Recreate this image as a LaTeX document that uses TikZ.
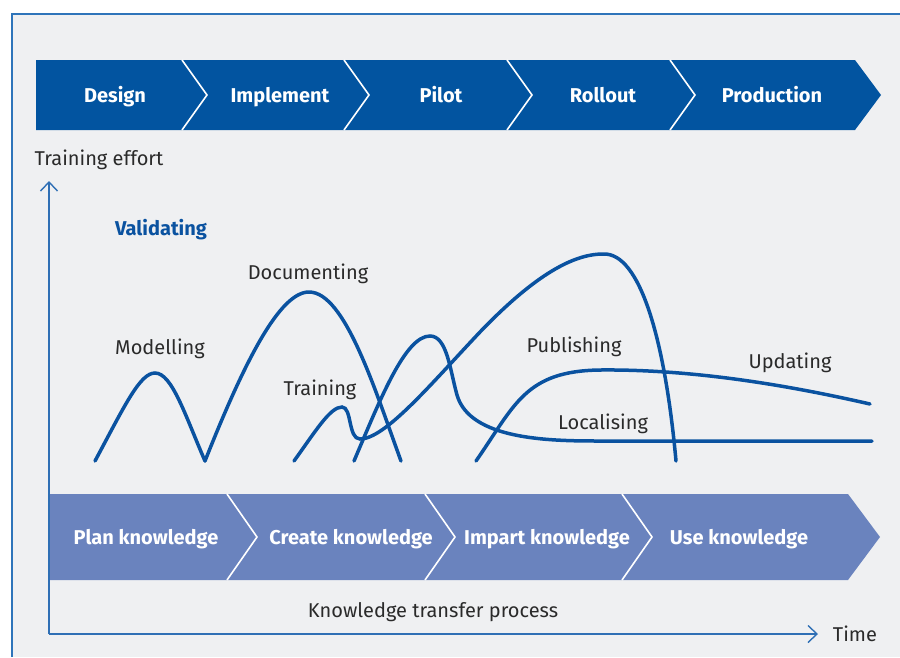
\documentclass[tikz,border=0pt]{standalone}
\usepackage{fontspec}
\setmainfont{Fira Sans}
\usetikzlibrary{arrows.meta}

\definecolor{panelgray}{HTML}{EFF0F2}
\definecolor{frameblue}{HTML}{2E74BA}
\definecolor{phaseblue}{HTML}{0254A0}
\definecolor{stepblue}{HTML}{6A83BE}
\definecolor{curveblue}{HTML}{0A52A0}
\definecolor{axisblue}{HTML}{2F6FB5}
\definecolor{textgray}{HTML}{2A2A2A}

\tikzset{
  phase/.style={text=white, anchor=base, font=\fontsize{20}{23}\selectfont\bfseries},
  effort/.style={curveblue, line width=3.5pt, line cap=round},
  activity/.style={text=textgray, anchor=base, font=\fontsize{20}{23}\selectfont},
  axis/.style={axisblue, line width=1.5pt, -{Straight Barb[length=9pt,width=17pt,line width=1.4pt]}}
}

\begin{document}
\begin{tikzpicture}[x=1pt, y=-1pt]
	\useasboundingbox (0,0) rectangle (900,657);
	% panel
	\fill[panelgray] (12,14) rectangle (900,657);
	\draw[frameblue, line width=1.6pt] (12,657) -- (12,14) -- (900,14);

	% project phases
	\fill[phaseblue] (36,60) -- (855,60) -- (881,95) -- (855,130) -- (36,130) -- cycle;
	\foreach \x in {182,344,507,670}
		\draw[white, line width=1.6pt] (\x,60) -- (\x+25,95) -- (\x,130);
	\node[phase] (design) at (115,102) {Design};
	\node[phase] (implement) at (280,102) {Implement};
	\node[phase] (pilot) at (441,102) {Pilot};
	\node[phase] (rollout) at (603,102) {Rollout};
	\node[phase] (production) at (772,102) {Production};

	% knowledge steps
	\fill[stepblue] (49,494) -- (848,494) -- (880,537) -- (848,580) -- (49,580) -- cycle;
	\foreach \x in {227,425,622}
		\draw[white, line width=1.6pt] (\x,494) -- (\x+30,537) -- (\x,580);
	\node[phase] (plan) at (146,544) {Plan knowledge};
	\node[phase] (create) at (351,544) {Create knowledge};
	\node[phase] (impart) at (547,544) {Impart knowledge};
	\node[phase] (use) at (739,544) {Use knowledge};

	% axes
	\coordinate (origin) at (49,634);
	\coordinate (ytop) at (49,181);
	\coordinate (xend) at (818,634);
	\draw[axis] (origin) -- (ytop);
	\draw[axis] (origin) -- (xend);
	\node[activity] (effortlabel) at (99,165) {Training effort};
	\node[activity] (timelabel) at (855,641) {Time};
	\node[activity] (processlabel) at (433,617) {Knowledge transfer process};

	% effort curves
	\draw[effort] (95,461) .. controls (125,405) and (140,373) .. (155,373)
		.. controls (172,373) and (185,415) .. (205,461);
	\draw[effort] (205,461) .. controls (245,360) and (280,292) .. (309,292)
		.. controls (345,292) and (375,390) .. (401,461);
	\draw[effort] (294,461) .. controls (315,432) and (330,407) .. (342,407)
		.. controls (352,407) and (348,439) .. (360,439)
		.. controls (385,439) and (430,385) .. (480,332)
		.. controls (530,280) and (570,254) .. (603,254)
		.. controls (640,252) and (665,340) .. (676,461);
	\draw[effort] (354,461) .. controls (380,400) and (405,336) .. (430,336)
		.. controls (447,336) and (450,370) .. (457,395)
		.. controls (470,440) and (550,441) .. (600,441) -- (872,441);
	\draw[effort] (476,461) .. controls (515,405) and (525,371) .. (600,370)
		.. controls (700,369) and (800,388) .. (870,404);

	\node[phase, text=curveblue] (validating) at (161,235) {Validating};
	\node[activity] (modelling) at (160,354) {Modelling};
	\node[activity] (documenting) at (308,279) {Documenting};
	\node[activity] (training) at (320,395) {Training};
	\node[activity] (publishing) at (574,352) {Publishing};
	\node[activity] (updating) at (790,368) {Updating};
	\node[activity] (localising) at (603,429) {Localising};
\end{tikzpicture}
\end{document}
